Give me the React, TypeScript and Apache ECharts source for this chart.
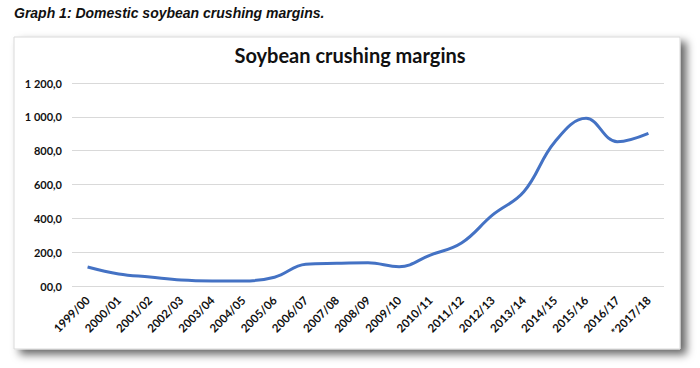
import React, { useEffect, useRef } from "react";
import * as echarts from "echarts";

const categories = [
  "1999/00", "2000/01", "2001/02", "2002/03", "2003/04", "2004/05", "2005/06",
  "2006/07", "2007/08", "2008/09", "2009/10", "2010/11", "2011/12", "2012/13",
  "2013/14", "2014/15", "2015/16", "2016/17", "*2017/18",
];
const margins = [112, 71, 53, 35, 30, 30, 52, 128, 134, 137, 114, 183, 254, 420, 557, 853, 991, 853, 902];
const yTickLabels = ["00,0", "200,0", "400,0", "600,0", "800,0", "1 000,0", "1 200,0"];

export default function App() {
  const ref = useRef<HTMLDivElement>(null);
  useEffect(() => {
    if (!ref.current) return;
    const chart = echarts.init(ref.current, null, { renderer: "svg" });
    chart.setOption({
      animation: false,
      backgroundColor: "#ffffff",
      graphic: [
        {
          type: "rect",
          z: -10,
          silent: true,
          shape: { x: 14, y: 37, width: 666, height: 312 },
          style: {
            fill: "#ffffff",
            stroke: "#d9d9d9",
            lineWidth: 1,
            shadowBlur: 8,
            shadowOffsetX: 6,
            shadowOffsetY: 5,
            shadowColor: "rgba(0,0,0,0.6)",
          },
        },
        {
          type: "text",
          left: 14,
          top: 6,
          style: {
            text: "Graph 1: Domestic soybean crushing margins.",
            font: "italic bold 14px 'Liberation Sans', Arial, sans-serif",
            fill: "#111111",
          },
        },
      ],
      title: {
        text: "Soybean crushing margins",
        left: "center",
        top: 40,
        textStyle: {
          fontFamily: "Lato, 'Open Sans', sans-serif",
          fontWeight: "bold",
          fontSize: 20,
          color: "#111111",
        },
      },
      grid: { left: 72, right: 36, top: 83, bottom: 82, containLabel: false },
      xAxis: {
        type: "category",
        data: categories,
        boundaryGap: true,
        axisLine: { show: false },
        axisTick: { show: false },
        axisLabel: {
          rotate: 45,
          interval: 0,
          margin: 12,
          fontFamily: "Lato, 'Open Sans', sans-serif",
          fontWeight: "bold",
          fontSize: 11.5,
          color: "#111111",
        },
      },
      yAxis: {
        type: "value",
        min: 0,
        max: 1200,
        interval: 200,
        axisLine: { show: false },
        axisTick: { show: false },
        splitLine: { lineStyle: { color: "#d9d9d9", width: 1 } },
        axisLabel: {
          margin: 10,
          fontFamily: "Lato, 'Open Sans', sans-serif",
          fontWeight: "bold",
          fontSize: 11,
          color: "#111111",
          formatter: (v: number) => yTickLabels[Math.round(v / 200)] ?? "",
        },
      },
      series: [
        {
          type: "line",
          data: margins,
          smooth: 0.4,
          symbol: "none",
          lineStyle: { color: "#4472C4", width: 3 },
        },
      ],
    });
    return () => chart.dispose();
  }, []);
  return (
    <div
      ref={ref}
      style={{ position: "fixed", left: 0, top: 0, width: 700, height: 368 }}
    />
  );
}
